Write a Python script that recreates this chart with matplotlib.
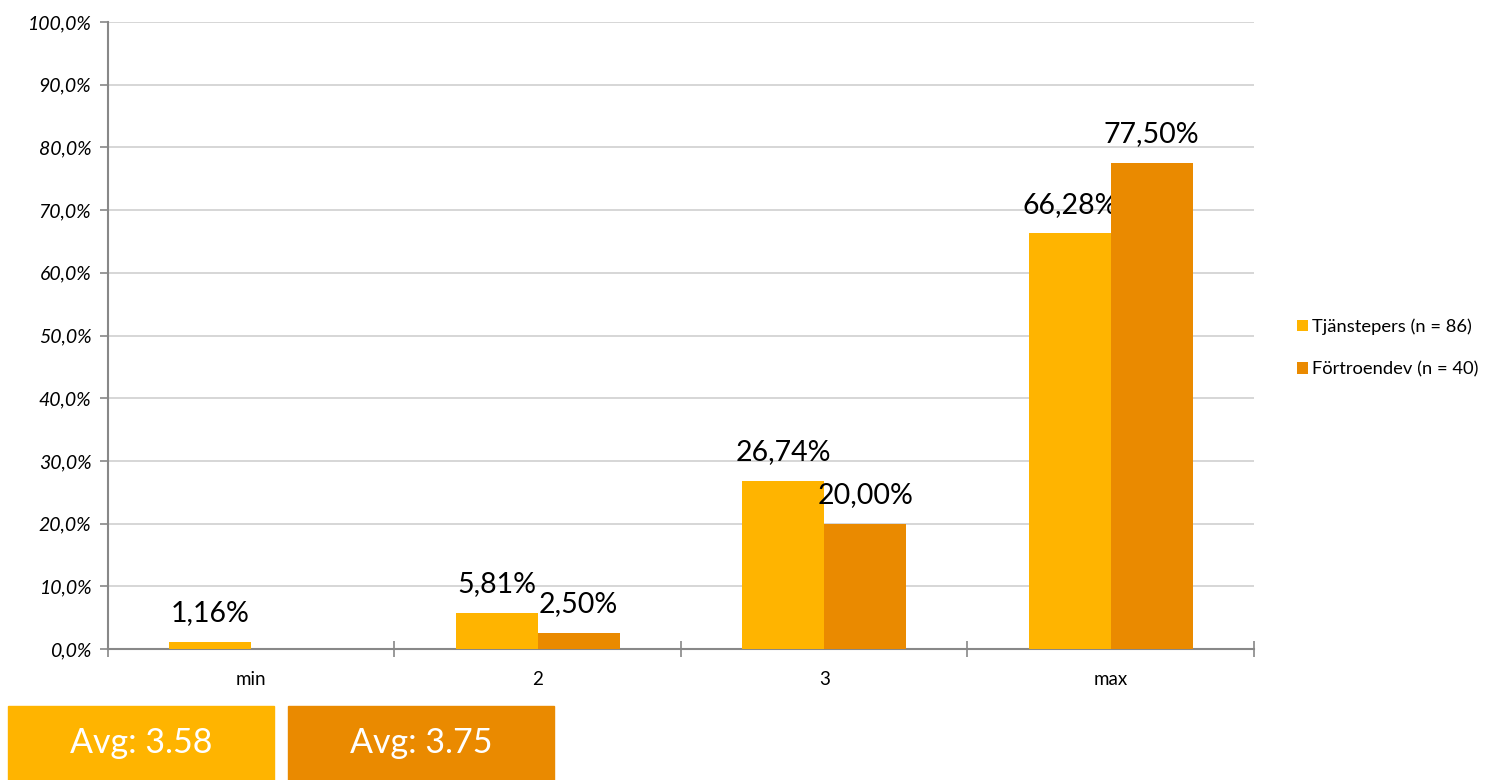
import matplotlib.pyplot as plt
from matplotlib.patches import Rectangle
import numpy as np

plt.rcParams['font.family'] = ['Lato', 'DejaVu Sans']

# data
categories = ['min', '2', '3', 'max']
series_names = ['Tjänstepers (n = 86)', 'Förtroendev (n = 40)']
tjanstepers = [1.16, 5.81, 26.74, 66.28]
fortroendev = [0.0, 2.50, 20.00, 77.50]
averages = [3.58, 3.75]
colors = ['#FFB400', '#EA8A00']

fig = plt.figure(figsize=(14.96, 7.80), dpi=100)
ax = fig.add_axes([108 / 1496, 131 / 780, (1254 - 108) / 1496, (649 - 22) / 780])

x = np.arange(len(categories))
w = 0.286
for i, (vals, name) in enumerate(zip([tjanstepers, fortroendev], series_names)):
    pos = x - w / 2 + i * w
    bars = ax.bar(pos, vals, width=w, color=colors[i], label=name, zorder=3)
    for b, v in zip(bars, vals):
        if v > 0:
            ax.annotate(f'{v:.2f}%'.replace('.', ','),
                        (b.get_x() + b.get_width() / 2, v),
                        xytext=(0, 15), textcoords='offset points',
                        ha='center', va='baseline', fontsize=20.5, color='black')

ax.set_xlim(-0.5, len(categories) - 0.5)
ax.set_ylim(0, 100)
yt = np.arange(0, 101, 10)
ax.set_yticks(yt)
ax.set_yticklabels([f'{v:.1f}%'.replace('.', ',') for v in yt],
                   fontsize=14, style='italic')
ax.yaxis.grid(True, color='#D0D0D0', linewidth=1.2, zorder=0)

ax.set_xticks(np.arange(-0.5, len(categories), 1))
ax.set_xticklabels([])
ax.set_xticks(x, minor=True)
ax.set_xticklabels(categories, minor=True, fontsize=13.5)
ax.tick_params(axis='x', which='major', direction='inout', length=12,
               color='#888888', width=1.2)
ax.tick_params(axis='x', which='minor', length=0, pad=16)
ax.tick_params(axis='y', direction='out', length=6, color='#888888', width=1.2, pad=6)

for s in ['top', 'right']:
    ax.spines[s].set_visible(False)
for s in ['left', 'bottom']:
    ax.spines[s].set_color('#888888')
    ax.spines[s].set_linewidth(1.5)

ax.legend(loc='center left', bbox_to_anchor=(1.026, 0.48), frameon=False,
          fontsize=13.2, handlelength=0.6, handleheight=0.6, handletextpad=0.25,
          labelspacing=1.45, borderaxespad=0.3)

# average boxes
box_x = [8, 288]
for bx, avg, c in zip(box_x, averages, colors):
    fig.patches.append(Rectangle((bx / 1496, 0), 266 / 1496, 74 / 780,
                                 transform=fig.transFigure, color=c))
    fig.text((bx + 133) / 1496, 37 / 780, f'Avg: {avg:.2f}', color='white',
             fontsize=24.5, ha='center', va='center')

fig.savefig('out.png', dpi=100)
